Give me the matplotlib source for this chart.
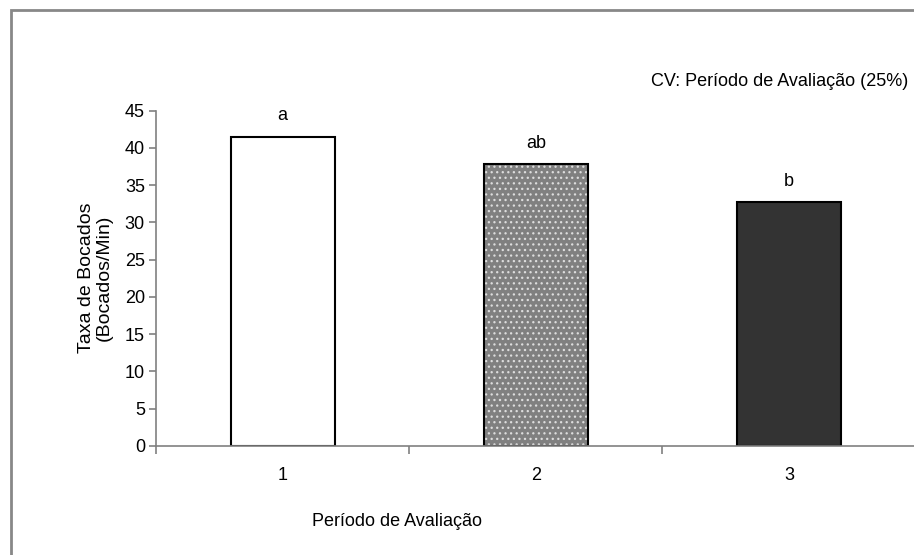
import matplotlib.pyplot as plt
from matplotlib.patches import Rectangle

plt.rcParams['font.family'] = ['Liberation Sans', 'DejaVu Sans']
plt.rcParams['hatch.linewidth'] = 0.9

# data
periodos = ['1', '2', '3']
taxa = [41.5, 37.8, 32.7]
letras = ['a', 'ab', 'b']
cores = ['white', '#808080', '#333333']
padroes = ['', '...', '']

fig = plt.figure(figsize=(9.14, 5.55), dpi=100)
ax = fig.add_axes([0.1707, 0.1964, 0.831, 0.6045])

x = [0, 1, 2]
# fill (dotted pattern needs white hatch, so draw fill and outline separately)
for i in x:
    ax.bar(i, taxa[i], width=0.41, color=cores[i], edgecolor='#dddddd',
           hatch=padroes[i], linewidth=0, zorder=2)
ax.bar(x, taxa, width=0.41, fill=False, edgecolor='black', linewidth=1.5, zorder=3)

for i in x:
    ax.text(i, taxa[i] + 1.7, letras[i], ha='center', va='bottom', fontsize=13)

ax.set_xlim(-0.5, 2.5)
ax.set_ylim(0, 45)
ax.set_yticks(range(0, 46, 5))
ax.set_xticks([-0.5, 0.5, 1.5, 2.5])
ax.set_xticklabels([])
ax.set_xticks(x, minor=True)
ax.set_xticklabels(periodos, minor=True)
ax.tick_params(axis='x', which='major', length=6, color='#808080', width=1.2)
ax.tick_params(axis='x', which='minor', length=0, pad=15, labelsize=13)
ax.tick_params(axis='y', length=5, color='#808080', width=1.2, labelsize=13, pad=3)

for s in ['top', 'right']:
    ax.spines[s].set_visible(False)
for s in ['left', 'bottom']:
    ax.spines[s].set_color('#808080')
    ax.spines[s].set_linewidth(1.2)
    ax.spines[s].set_zorder(4)

ax.set_ylabel('Taxa de Bocados\n(Bocados/Min)', fontsize=14, labelpad=9, linespacing=1.0)
fig.text(397 / 914, 1 - 522 / 555, 'Período de Avaliação', ha='center', va='center', fontsize=13)
fig.text(908 / 914, 1 - 82 / 555, 'CV: Período de Avaliação (25%)', ha='right', va='center', fontsize=13)

# outer frame (cut off at right and bottom)
fig.patches.append(Rectangle((10.5 / 914, -0.1), 1.2, 1.1 - 9.5 / 555,
                             transform=fig.transFigure, fill=False,
                             edgecolor='#888888', linewidth=2))

fig.savefig('out.png', dpi=100)
